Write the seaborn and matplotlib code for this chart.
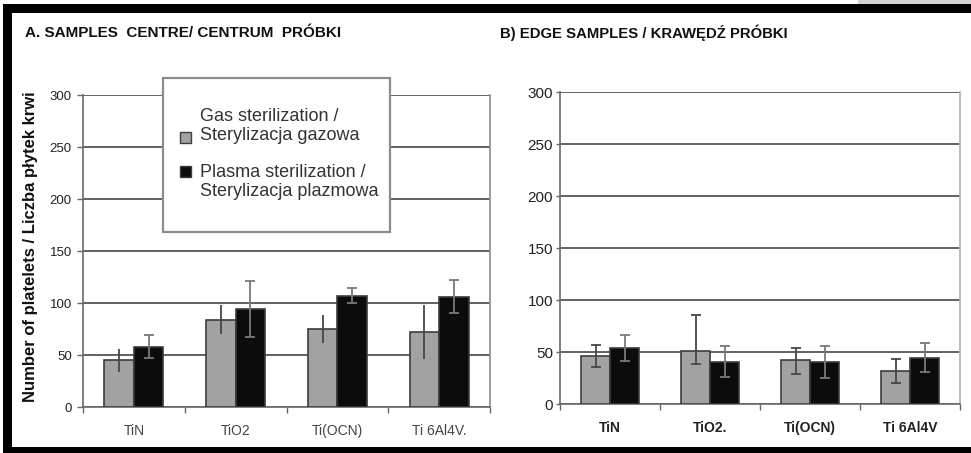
import matplotlib
matplotlib.use("Agg")
import matplotlib.pyplot as plt
from matplotlib.patches import Rectangle
import pandas as pd
import seaborn as sns

# ---- data -------------------------------------------------------------
labels_a = ["TiN", "TiO2", "Ti(OCN)", "Ti 6Al4V."]
labels_b = ["TiN", "TiO2.", "Ti(OCN)", "Ti 6Al4V"]
series = ["Gas", "Plasma"]

gas_a = [45, 84, 75, 72]
gas_a_lo = [11, 14, 13, 26]
gas_a_hi = [11, 14, 13, 26]
plasma_a = [58, 94, 107, 106]
plasma_a_lo = [11, 27, 7, 16]
plasma_a_hi = [11, 27, 7, 16]

gas_b = [46.5, 51, 42, 32]
gas_b_lo = [11, 13, 13, 12]
gas_b_hi = [10, 35, 12, 11]
plasma_b = [53.5, 40, 40, 44.5]
plasma_b_lo = [12, 14, 15, 14]
plasma_b_hi = [13, 16, 16, 14]

y_ticks = [0, 50, 100, 150, 200, 250, 300]

legend_gas = "Gas sterilization /\nSterylizacja gazowa"
legend_plasma = "Plasma sterilization /\nSterylizacja plazmowa"
title_a = "A. SAMPLES  CENTRE/ CENTRUM  PRÓBKI"
title_b = "B) EDGE SAMPLES / KRAWĘDŹ PRÓBKI"
y_label = "Number of platelets / Liczba płytek krwi"

GAS_COLOR = "#a2a2a2"
PLASMA_COLOR = "#0c0c0c"
EDGE = "#3c3c3c"
GRID = "#555555"

sns.set_theme(style="white")
plt.rcParams["font.family"] = ["Liberation Sans", "DejaVu Sans"]

W, H = 971, 453
fig = plt.figure(figsize=(W / 100, H / 100), dpi=100)


def fx(px):
    return px / W


def fy(py):
    return 1 - py / H


def frame(df_labels, gas, plasma):
    return pd.DataFrame({
        "material": df_labels * 2,
        "treatment": [series[0]] * 4 + [series[1]] * 4,
        "count": gas + plasma,
    })


def panel(rect, labels, gas, gas_lo, gas_hi, plasma, plasma_lo, plasma_hi,
          ytick_style, xtick_style, gas_caps):
    ax = fig.add_axes(rect)
    df = frame(labels, gas, plasma)
    sns.barplot(data=df, x="material", y="count", hue="treatment",
                hue_order=series, palette=[GAS_COLOR, PLASMA_COLOR],
                width=0.58, errorbar=None, legend=False, ax=ax,
                edgecolor=EDGE, linewidth=1.2, zorder=3)
    # error bars at the centres of the drawn bars
    for cont, vals, lo, hi, caps, ecol in (
            (ax.containers[0], gas, gas_lo, gas_hi, gas_caps, "#474747"),
            (ax.containers[1], plasma, plasma_lo, plasma_hi, 3.3, "#7a7a7a")):
        xs = [b.get_x() + b.get_width() / 2 for b in cont]
        ax.errorbar(xs, vals, yerr=[lo, hi], fmt="none", ecolor=ecol,
                    elinewidth=1.3, capsize=caps, capthick=1.3, zorder=4)
    ax.set_ylim(0, 300)
    ax.set_xlim(-0.5, 3.5)
    ax.set_yticks(y_ticks)
    ax.yaxis.grid(True, color=GRID, linewidth=1.3, zorder=0)
    ax.xaxis.grid(False)
    ax.set_xlabel("")
    ax.set_ylabel("")
    ax.set_xticks(range(4))
    ax.set_xticks([-0.5, 0.5, 1.5, 2.5, 3.5], minor=True)
    ax.tick_params(axis="x", which="major", length=0, pad=xtick_style["pad"])
    ax.tick_params(axis="x", which="minor", length=4, width=1, color="#666666",
                   direction="out", bottom=True)
    ax.tick_params(axis="y", length=ytick_style["len"], width=1,
                   color="#666666", direction="out", left=True,
                   pad=ytick_style["pad"])
    for t in ax.get_yticklabels():
        t.set_fontsize(ytick_style["size"])
        t.set_color("#222222")
    for t in ax.get_xticklabels():
        t.set_fontsize(xtick_style["size"])
        t.set_color(xtick_style["color"])
        t.set_fontweight(xtick_style["weight"])
    for side in ("left", "bottom"):
        ax.spines[side].set_color("#6a6a6a")
        ax.spines[side].set_linewidth(1.2)
    ax.spines["top"].set_visible(False)
    ax.spines["right"].set_color("#8a8a8a")
    ax.spines["right"].set_linewidth(1.2)
    return ax


ax_a = panel([fx(83), fy(407), fx(490) - fx(83), fy(95) - fy(407)],
             labels_a, gas_a, gas_a_lo, gas_a_hi, plasma_a, plasma_a_lo,
             plasma_a_hi,
             {"size": 9.5, "len": 4, "pad": 4},
             {"size": 10, "color": "#444444", "weight": "normal", "pad": 12},
             0)
ax_b = panel([fx(560), fy(404), fx(960) - fx(560), fy(92) - fy(404)],
             labels_b, gas_b, gas_b_lo, gas_b_hi, plasma_b, plasma_b_lo,
             plasma_b_hi,
             {"size": 11, "len": 3, "pad": 2},
             {"size": 10, "color": "#222222", "weight": "bold", "pad": 12},
             3.3)
ax_b.spines["right"].set_color("#b0b0b0")

# ---- titles and axis label -----------------------------------------
fig.text(fx(25), fy(33), title_a, fontsize=11, fontweight="bold",
         va="center", ha="left", color="#111111")
fig.text(fx(500), fy(33), title_b, fontsize=10.7, fontweight="bold",
         va="center", ha="left", color="#111111")
fig.text(fx(31), fy(247), y_label, rotation=90, fontsize=12,
         fontweight="bold", va="center", ha="center", color="#111111")

# ---- legend box ------------------------------------------------------
fig.add_artist(Rectangle((fx(163), fy(232)), fx(390) - fx(163),
                         fy(78) - fy(232), transform=fig.transFigure,
                         facecolor="white", edgecolor="#8c8c8c",
                         linewidth=1.6, zorder=5))
sq = 11
for cy, col in ((137, GAS_COLOR), (171, PLASMA_COLOR)):
    fig.add_artist(Rectangle((fx(185 - sq / 2), fy(cy + sq / 2)), sq / W,
                             sq / H, transform=fig.transFigure,
                             facecolor=col, edgecolor=EDGE, linewidth=1,
                             zorder=6))
for cy, txt in ((126, legend_gas), (182, legend_plasma)):
    fig.text(fx(200), fy(cy), txt, fontsize=13, va="center", ha="left",
             color="#333333", linespacing=1.15, zorder=6)

# ---- outer black frame -------------------------------------------------
for x0, y0, x1, y1, col in ((858, 0, 971, 5, "#d3d3d3"),
                            (3, 4, 971, 13, "black"),
                            (3, 4, 12, 453, "black"),
                            (3, 447, 971, 453, "black")):
    fig.add_artist(Rectangle((fx(x0), fy(y1)), (x1 - x0) / W,
                             (y1 - y0) / H, transform=fig.transFigure,
                             facecolor=col, edgecolor="none", zorder=10))

fig.savefig("out.png", dpi=100, facecolor="white")
